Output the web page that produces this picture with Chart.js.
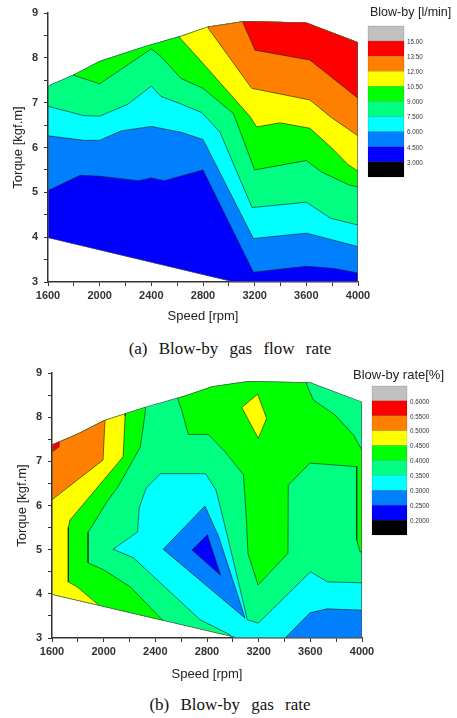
<!DOCTYPE html>
<html lang="en">
<head>
<meta charset="UTF-8" />
<title>Blow-by contour maps</title>
<script src="https://cdn.jsdelivr.net/npm/chart.js"></script>
<style>
  body { margin: 0; background: #fff; width: 457px; height: 718px; position: relative; overflow: hidden; }
  canvas { position: absolute; left: 0; }
  #flowChart { top: 0; }
  #rateChart { top: 360px; }
  .caption {
    position: absolute; left: 0; width: 460px; text-align: center;
    font-family: "Liberation Serif", "Times New Roman", serif;
    font-size: 17px; word-spacing: 7px; color: #111; line-height: 20px;
  }
</style>
</head>
<body>
<canvas id="flowChart" width="457" height="335"></canvas>
<div class="caption" style="top:339px">(a) Blow-by gas flow rate</div>
<canvas id="rateChart" width="457" height="330"></canvas>
<div class="caption" style="top:695px">(b) Blow-by gas rate</div>

<script>
  // colour scale, top of the legend to bottom
  const levelColors = ['#c0c0c0', '#ff0000', '#ff8000', '#ffff00', '#00ff00', '#00ff80', '#00ffff', '#0080ff', '#0000ff', '#000000'];
  const flowLabels = ['15.00', '13.50', '12.00', '10.50', '9.000', '7.500', '6.000', '4.500', '3.000'];
  const rateLabels = ['0.6000', '0.5500', '0.5000', '0.4500', '0.4000', '0.3500', '0.3000', '0.2500', '0.2000'];
  const [GRAY, RED, ORANGE, YELLOW, GREEN, SPRING, CYAN, AZURE, BLUE] = levelColors;

  // measured area of the map (speed rpm, torque kgf.m)
  const domainEdge = [[1600, 7.38], [1800, 7.63], [2000, 7.93], [2350, 8.26], [2630, 8.49], [2840, 8.70],
    [3120, 8.82], [3600, 8.79], [4000, 8.35], [4000, 3.0], [3030, 3.0], [1600, 3.98], [1600, 7.38]];

  // (a) blow-by flow, region above each level
  const flow45 = [[1500, 5.04], [1600, 5.04], [1850, 5.38], [2000, 5.36], [2300, 5.26], [2400, 5.32], [2500, 5.26],
    [2800, 5.50], [3190, 3.22], [3600, 3.35], [3820, 3.30], [4000, 3.20], [4100, 3.2], [4100, 9.5], [1500, 9.5], [1500, 5.04]];
  const flow60 = [[1500, 6.26], [1600, 6.26], [1880, 6.16], [2000, 6.16], [2165, 6.37], [2400, 6.47], [2630, 6.34],
    [2800, 6.18], [3190, 3.97], [3600, 4.09], [4000, 3.79], [4100, 3.75], [4100, 9.5], [1500, 9.5], [1500, 6.26]];
  const flow75 = [[1500, 6.92], [1600, 6.92], [1880, 6.71], [2000, 6.70], [2215, 6.96], [2400, 7.37], [2475, 7.14],
    [2630, 6.97], [2790, 6.78], [2930, 6.35], [3180, 4.66], [3600, 4.78], [3790, 4.42], [4000, 4.27], [4100, 4.2],
    [4100, 9.5], [1500, 9.5], [1500, 6.92]];
  const flow90 = [[1760, 7.9], [1790, 7.62], [2000, 7.42], [2400, 8.20], [2475, 8.03], [2630, 7.54], [2800, 7.32],
    [3035, 6.76], [3200, 5.50], [3600, 5.71], [3720, 5.45], [3935, 5.16], [4000, 5.12], [4100, 5.1], [4100, 9.5],
    [1760, 9.5], [1760, 7.9]];
  const flow105 = [[2590, 9.5], [2590, 8.75], [2622, 8.44], [2777, 7.95], [3164, 6.69], [3216, 6.46], [3396, 6.55],
    [3628, 6.43], [3793, 6.0], [3922, 5.62], [4000, 5.47], [4100, 5.4], [4100, 9.5], [2590, 9.5]];
  const flow120 = [[2820, 9.5], [2830, 8.8], [2841, 8.66], [3177, 7.32], [3628, 7.06], [3793, 6.67], [4000, 6.26],
    [4100, 6.2], [4100, 9.5], [2820, 9.5]];
  const flow135 = [[3100, 9.5], [3105, 8.9], [3112, 8.77], [3203, 8.17], [3628, 7.95], [4000, 7.10], [4100, 7.0],
    [4100, 9.5], [3100, 9.5]];

  // (b) blow-by rate, high areas
  const rateGreenLeft = [[2330, 9.5], [2330, 8.6], [2322, 8.11], [2283, 7.32], [2112, 6.43], [2027, 6.09], [1879, 5.39],
    [1879, 4.70], [1996, 4.55], [2205, 4.16], [2461, 3.39], [2540, 3.0], [2540, 2.0], [1400, 2.0], [1400, 9.5], [2330, 9.5]];
  const rateYellowLeft = [[2175, 9.5], [2170, 8.5], [2166, 8.02], [2150, 7.10], [1739, 5.67], [1726, 5.5], [1726, 4.27],
    [1794, 4.16], [1972, 3.72], [2040, 3.4], [2040, 2.0], [1400, 2.0], [1400, 9.5], [2175, 9.5]];
  const rateOrange = [[1400, 6.0], [1600, 6.13], [1995, 7.03], [2010, 7.90], [2015, 9.5], [1400, 9.5], [1400, 6.0]];
  const rateRed = [[1560, 7.6], [1660, 7.6], [1654, 7.33], [1600, 7.21], [1560, 7.2], [1560, 7.6]];
  const rateGreenTop = [[2555, 9.5], [2565, 8.6], [2570, 8.45], [2609, 8.11], [2655, 7.61], [2810, 7.61], [2939, 7.22],
    [3082, 6.70], [3105, 5.7], [3117, 4.92], [3195, 4.20], [3427, 4.92], [3429, 6.46], [3597, 6.96], [3959, 6.88],
    [3959, 5.22], [3985, 4.95], [4100, 4.95], [4100, 6.75], [3985, 7.33], [3933, 7.60], [3791, 8.05], [3623, 8.39],
    [3572, 8.74], [3565, 9.5], [2555, 9.5]];
  const rateYellowIsland = [[3069, 8.22], [3192, 8.52], [3262, 7.97], [3197, 7.52], [3069, 8.22]];
  // (b) low areas
  const rateCyanValley = [[2073, 5.01], [2262, 5.40], [2275, 5.95], [2330, 6.40], [2440, 6.72], [2790, 6.72],
    [2870, 6.35], [2927, 5.68], [3017, 4.59], [3113, 3.41], [3198, 3.34], [3602, 4.50], [3733, 4.27], [4000, 4.25],
    [4100, 4.25], [4100, 2.0], [3050, 2.0], [2981, 3.07], [2748, 3.41], [2228, 4.82], [2073, 5.01]];
  const rateAzureCore = [[2461, 5.01], [2784, 5.99], [2890, 5.3], [3095, 3.45], [2461, 5.01]];
  const rateAzureCorner = [[3380, 2.8], [3404, 3.0], [3597, 3.57], [3729, 3.66], [4000, 3.63], [4100, 3.63],
    [4100, 2.8], [3380, 2.8]];
  const rateBlueCore = [[2684, 4.99], [2803, 5.34], [2905, 4.42], [2684, 4.99]];

  Chart.defaults.font.family = '"Liberation Sans", Arial, sans-serif';
  Chart.defaults.color = '#333';

  function region(points, color, base) {
    return {
      data: points.map(([x, y]) => ({ x, y })),
      backgroundColor: color,
      borderColor: base ? 'rgba(0,0,0,0)' : 'rgba(25,25,25,0.85)',
      borderWidth: base ? 0 : 0.7,
      fill: 'shape',
      pointRadius: 0,
      tension: 0
    };
  }

  function outline() {
    return {
      data: domainEdge.map(([x, y]) => ({ x, y })),
      borderColor: '#555',
      borderWidth: 1.4,
      fill: false,
      pointRadius: 0,
      tension: 0
    };
  }

  // clip all contour bands to the measured area
  const domainClip = {
    id: 'domainClip',
    beforeDatasetsDraw(chart) {
      const { ctx, scales: { x, y } } = chart;
      ctx.save();
      ctx.beginPath();
      domainEdge.forEach(([s, t], i) => {
        const px = x.getPixelForValue(s), py = y.getPixelForValue(t);
        i ? ctx.lineTo(px, py) : ctx.moveTo(px, py);
      });
      ctx.closePath();
      ctx.clip();
    },
    afterDatasetsDraw(chart) {
      chart.ctx.restore();
    }
  };

  // colour bar on the right
  const colorBar = {
    id: 'colorBar',
    afterDraw(chart, args, o) {
      const ctx = chart.ctx;
      ctx.save();
      ctx.fillStyle = '#222';
      ctx.font = o.titleFont;
      ctx.textAlign = 'left';
      ctx.textBaseline = 'middle';
      ctx.fillText(o.title, o.titleX, o.titleY);
      levelColors.forEach((c, i) => {
        const top = o.top + i * o.rowHeight;
        ctx.fillStyle = c;
        ctx.fillRect(o.left, top, o.width, o.rowHeight);
        ctx.strokeStyle = 'rgba(0,0,0,0.25)';
        ctx.lineWidth = 0.5;
        ctx.strokeRect(o.left, top, o.width, o.rowHeight);
      });
      ctx.fillStyle = '#333';
      ctx.font = '6.3px "Liberation Sans", Arial, sans-serif';
      o.labels.forEach((t, i) => {
        ctx.fillText(t, o.left + o.width + 3, o.top + (i + 1) * o.rowHeight + 1);
      });
      ctx.restore();
    }
  };

  function makeChart(id, layers, axisLeft, yTitlePad, xTitlePad, bar) {
    const canvas = document.getElementById(id);
    const plotRight = axisLeft + 310;
    const datasets = layers.map(([pts, c], i) => region(pts, c, i === 0));
    datasets.push(outline());
    datasets.reverse(); // first dataset is painted last

    return new Chart(canvas.getContext('2d'), {
      type: 'line',
      data: { datasets },
      plugins: [domainClip, colorBar],
      options: {
        responsive: false,
        animation: false,
        events: [],
        layout: { padding: { left: 0, right: canvas.width - plotRight, top: 13, bottom: 0 } },
        plugins: {
          legend: { display: false },
          tooltip: { enabled: false },
          colorBar: bar
        },
        scales: {
          x: {
            type: 'linear', min: 1600, max: 4000,
            afterFit: s => { s.height = canvas.height - xTitlePad.areaBottom; },
            ticks: {
              stepSize: 200, autoSkip: false, maxRotation: 0, padding: 3,
              font: { size: 11, weight: 'bold' }, color: '#333',
              callback: v => (v % 400 === 0 ? v : '')
            },
            grid: { drawOnChartArea: false, tickLength: 4, color: '#333' },
            border: { display: true, color: '#333', width: 1.5 },
            title: {
              display: true, text: 'Speed [rpm]', color: '#222',
              font: { size: 13 }, padding: { top: 0, bottom: xTitlePad.pad }
            }
          },
          y: {
            type: 'linear', min: 3, max: 9,
            afterFit: s => { s.width = axisLeft; },
            ticks: {
              stepSize: 0.5, autoSkip: false, padding: 6,
              font: { size: 11, weight: 'bold' }, color: '#333',
              callback: v => (Number.isInteger(v) ? v : '')
            },
            grid: { drawOnChartArea: false, tickLength: 4, color: '#333' },
            border: { display: true, color: '#333', width: 1.5 },
            title: {
              display: true, text: 'Torque [kgf.m]', color: '#222',
              font: { size: 13 }, padding: { top: yTitlePad, bottom: 0 }
            }
          }
        }
      }
    });
  }

  makeChart('flowChart', [
    [domainEdge, BLUE], [flow45, AZURE], [flow60, CYAN], [flow75, SPRING], [flow90, GREEN],
    [flow105, YELLOW], [flow120, ORANGE], [flow135, RED]
  ], 48, 11, { areaBottom: 282, pad: 11 }, {
    title: 'Blow-by [l/min]', titleX: 370, titleY: 13, titleFont: '12.5px "Liberation Sans", Arial, sans-serif',
    left: 368, top: 26, width: 36, rowHeight: 15.1, labels: flowLabels
  });

  makeChart('rateChart', [
    [domainEdge, SPRING], [rateGreenLeft, GREEN], [rateYellowLeft, YELLOW], [rateOrange, ORANGE], [rateRed, RED],
    [rateGreenTop, GREEN], [rateYellowIsland, YELLOW], [rateCyanValley, CYAN], [rateAzureCore, AZURE],
    [rateAzureCorner, AZURE], [rateBlueCore, BLUE]
  ], 52, 15, { areaBottom: 278, pad: 8 }, {
    title: 'Blow-by rate[%]', titleX: 353, titleY: 15, titleFont: '13px "Liberation Sans", Arial, sans-serif',
    left: 372, top: 26, width: 35, rowHeight: 14.9, labels: rateLabels
  });
</script>
</body>
</html>
